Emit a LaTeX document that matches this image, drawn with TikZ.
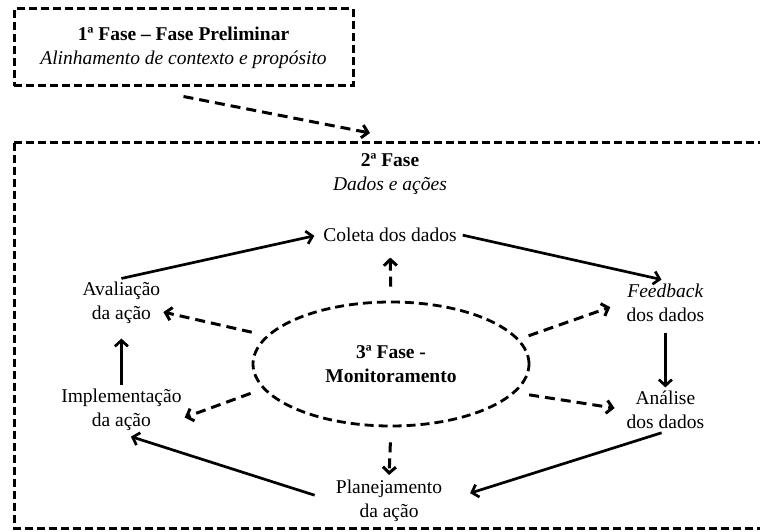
\documentclass[tikz,border=0pt]{standalone}
\usepackage{fontspec}
\setmainfont{Liberation Serif}
\usetikzlibrary{shapes.geometric,arrows.meta}
\tikzset{
    >={Straight Barb[length=6pt,width=13pt]},
    every edge/.style={draw,->,line width=2.7pt}
}

\begin{document}
\begin{tikzpicture}[x=1pt,y=-1pt,
                    every node/.style={font=\fontsize{19.5}{24}\selectfont,align=center,inner sep=3pt},
                    phase/.style={draw,line width=3pt,dash pattern=on 8pt off 4pt},
                    monitor/.style={ellipse,draw,line width=2.8pt,dash pattern=on 9pt off 5pt,
                                    minimum width=276pt,minimum height=124pt},
                    link/.style={line width=3pt,dash pattern=on 10pt off 6pt}]

\useasboundingbox (0,0) rectangle (760,532);

% Phases
\node[phase,minimum width=339pt,minimum height=77pt] (fase1) at (183.5,47.5)
    {\textbf{1ª Fase – Fase Preliminar}\\\textit{Alinhamento de contexto e propósito}};
\draw[phase] (14,143) rectangle (785,528);
\coordinate (entry) at (370,133);
\node (fase2) at (390,174.5) {\textbf{2ª Fase}\\\textit{Dados e ações}};
\node[monitor] (monit) at (391,364) {\textbf{3ª Fase -}\\\textbf{Monitoramento}};

% Cycle
\node (coleta) at (390,234.5) {Coleta dos dados};
\node (feedback) at (665.4,302.5) {\textit{Feedback}\\dos dados};
\node (analise) at (665.4,409.5) {Análise\\dos dados};
\node (planej) at (389,501) {Planejamento\\da ação};
\node (implem) at (121.4,409.5) {Implementação\\da ação};
\node (avalia) at (121.4,302.5) {Avaliação\\da ação};

% Transitions
\path ([yshift=-9pt]fase1.south) edge [link] (entry);
\path (avalia.north) edge [shorten >=6pt] (coleta.west);
\path (coleta.east) edge [shorten <=3pt,shorten >=4pt] (feedback.north);
\path (feedback.south) edge [shorten <=8pt] (analise.north);
\path (analise.south) edge [shorten <=4pt,shorten >=26pt] (planej.east);
\path (planej.west) edge [shorten <=19pt,shorten >=10pt] (implem.south);
\path (implem.north) edge [shorten >=12pt] (avalia.south);

% Monitoring
\path (monit.north) edge [link,shorten <=14pt,shorten >=13pt] (coleta.south);
\path (monit) edge [link,shorten <=15pt] (avalia);
\path (monit.191) edge [link,shorten <=13pt] ([yshift=-8pt]implem.east);
\path (monit.11) edge [link,shorten <=10pt,shorten >=14pt] (feedback.west);
\path (monit.-13) edge [link,shorten <=14pt,shorten >=9pt] (analise.west);
\path (monit.south) edge [link,shorten <=15pt,shorten >=2pt] (planej.north);

\end{tikzpicture}
\end{document}
